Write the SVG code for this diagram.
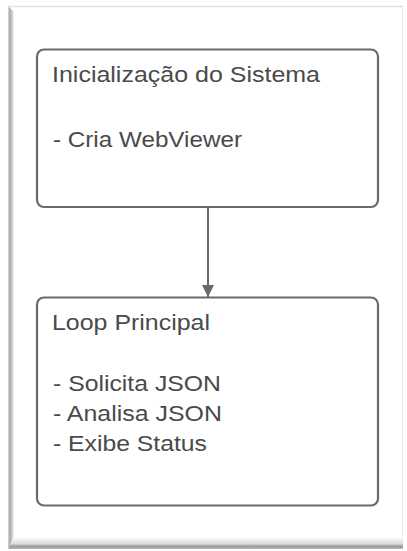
<svg xmlns="http://www.w3.org/2000/svg" width="407" height="551" viewBox="0 0 407 551">
  <style>
    .box { fill: #ffffff; stroke: #6a6a6a; stroke-width: 2.2; }
    .lbl { font-family: "Liberation Sans", Arial, sans-serif; font-size: 22.5px; fill: #4a4a4a; }
    .wire { stroke: #6a6a6a; stroke-width: 2; fill: none; }
  </style>
  <defs>
    <linearGradient id="bevelLeft" x1="0" y1="0" x2="1" y2="0">
      <stop offset="0" stop-color="#d8d8d8"/>
      <stop offset="0.35" stop-color="#a8a8a8"/>
      <stop offset="1" stop-color="#f4f4f4"/>
    </linearGradient>
    <linearGradient id="bevelBottom" x1="0" y1="0" x2="0" y2="1">
      <stop offset="0" stop-color="#ffffff"/>
      <stop offset="0.55" stop-color="#dcdcdc"/>
      <stop offset="0.8" stop-color="#9a9a9a"/>
      <stop offset="1" stop-color="#bdbdbd"/>
    </linearGradient>
    <marker id="arrow" viewBox="0 0 12 20" refX="12" refY="10" markerUnits="userSpaceOnUse" markerWidth="12" markerHeight="20" orient="auto">
      <path d="M0,4 L12,10 L0,16 Z" fill="#6a6a6a"/>
    </marker>
  </defs>

  <!-- page frame -->
  <rect x="0" y="0" width="407" height="551" fill="#ffffff"/>
  <rect x="8" y="6" width="395" height="543" fill="#ffffff"/>
  <line x1="8" y1="6.5" x2="403" y2="6.5" stroke="#e2e2e2" stroke-width="1.5"/>
  <line x1="402.5" y1="8" x2="402.5" y2="540" stroke="#e6e6e6" stroke-width="1"/>
  <polygon points="8,6 14,12 14,537 8,549" fill="url(#bevelLeft)"/>
  <polygon points="8,549 14,537 403,537 403,549" fill="url(#bevelBottom)"/>

  <!-- connectors -->
  <g id="connectors">
    <line class="wire" x1="208" y1="207" x2="208" y2="297" marker-end="url(#arrow)"/>
  </g>

  <!-- node: system start-up -->
  <g id="node-init">
    <rect class="box" x="37" y="49.5" width="341" height="157.5" rx="7"/>
    <text class="lbl" x="52" y="82" textLength="268" lengthAdjust="spacingAndGlyphs">Inicialização do Sistema</text>
    <text class="lbl" x="53" y="147" textLength="189" lengthAdjust="spacingAndGlyphs">- Cria WebViewer</text>
  </g>

  <!-- node: main loop -->
  <g id="node-loop">
    <rect class="box" x="37" y="297.5" width="341" height="208" rx="7"/>
    <text class="lbl" x="52" y="330" textLength="158" lengthAdjust="spacingAndGlyphs">Loop Principal</text>
    <text class="lbl" x="53" y="391" textLength="168" lengthAdjust="spacingAndGlyphs">- Solicita JSON</text>
    <text class="lbl" x="53" y="421" textLength="169" lengthAdjust="spacingAndGlyphs">- Analisa JSON</text>
    <text class="lbl" x="53" y="451" textLength="154" lengthAdjust="spacingAndGlyphs">- Exibe Status</text>
  </g>
</svg>
